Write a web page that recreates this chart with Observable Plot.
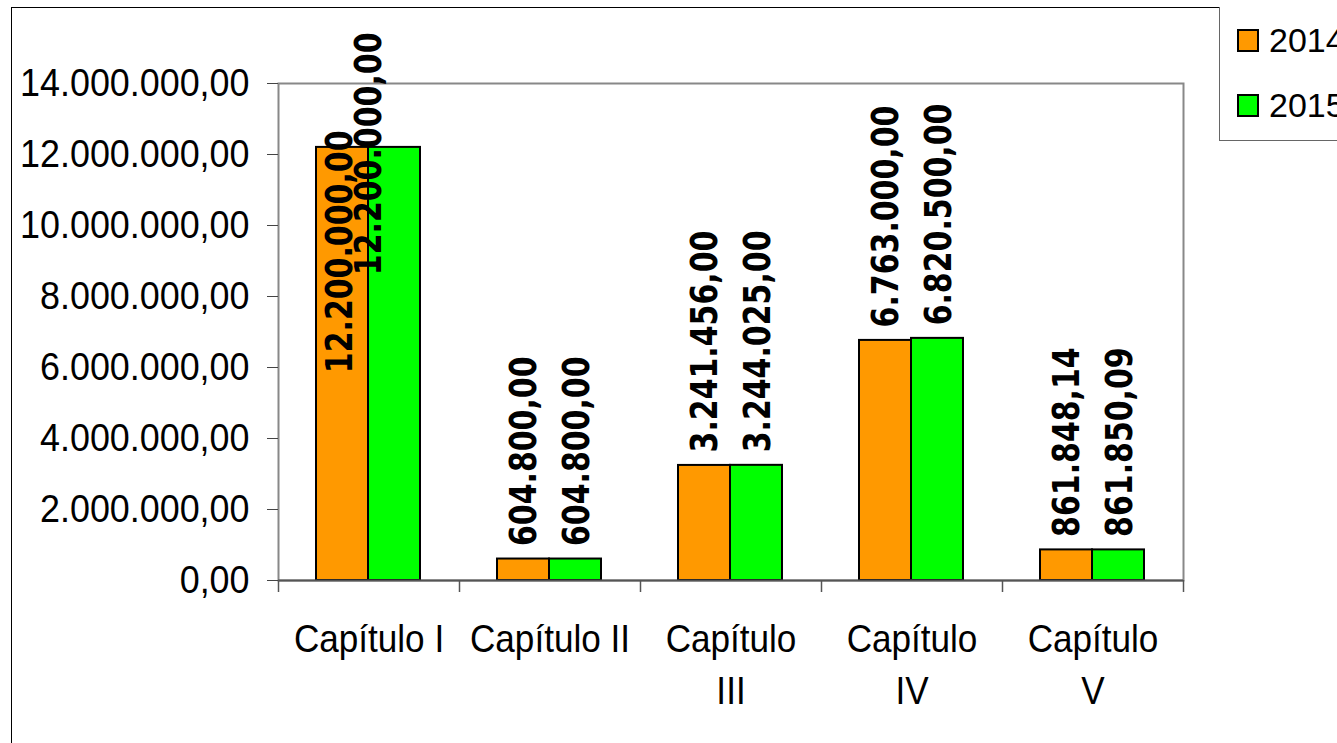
<!DOCTYPE html>
<html>
<head>
<meta charset="utf-8">
<script src="https://cdn.jsdelivr.net/npm/d3@7"></script>
<script src="https://cdn.jsdelivr.net/npm/@observablehq/plot@0.6"></script>
<style>
  html, body { margin: 0; padding: 0; background: #fff; overflow: hidden; }
  #wrap { position: relative; width: 1337px; height: 743px; overflow: hidden; }
  #outer { position: absolute; left: 11px; top: 7px; width: 1400px; height: 800px; border: 1.5px solid #000; box-sizing: border-box; }
  #chart { position: absolute; left: 0; top: 0; }
  #legend { position: absolute; left: 1219px; top: 7px; width: 200px; height: 134px; border: 1.2px solid #666; border-top: none; box-sizing: border-box; background: #fff; font-family: "Liberation Sans", Arial, sans-serif; font-size: 34px; }
  .item { position: absolute; left: 17px; display: flex; align-items: center; }
  .sw { width: 18px; height: 19px; border: 2px solid #000; margin-right: 10px; }
</style>
</head>
<body>
<div id="wrap">
  <div id="outer"></div>
  <div id="chart"></div>
  <div id="legend"></div>
</div>
<script>
const categories = ["Capítulo I", "Capítulo II", "Capítulo III", "Capítulo IV", "Capítulo V"];
const categoryLabels = ["Capítulo I", "Capítulo II", "Capítulo\nIII", "Capítulo\nIV", "Capítulo\nV"];
const years = ["2014", "2015"];
const values2014 = [12200000, 604800, 3241456, 6763000, 861848.14];
const values2015 = [12200000, 604800, 3244025, 6820500, 861850.09];
const yTicks = [0, 2000000, 4000000, 6000000, 8000000, 10000000, 12000000, 14000000];
const colors = ["#FF9900", "#00FF00"];

const locale = d3.formatLocale({decimal: ",", thousands: ".", grouping: [3], currency: ["", ""]});
const fmt = locale.format(",.2f");

const rows2014 = categories.map((c, i) => ({cat: c, value: values2014[i], year: years[0]}));
const rows2015 = categories.map((c, i) => ({cat: c, value: values2015[i], year: years[1]}));
const labelMap = new Map(categories.map((c, i) => [c, categoryLabels[i]]));

const W = 1337, H = 743;
const mL = 278, mR = 154, mT = 83, mB = 163;
const bw = (W - mL - mR) / categories.length;
const fits = d => d.value < 10000000;

const labelStyle = {fontFamily: "DejaVu Sans", fontWeight: "bold", fontSize: 37, fill: "#000", rotate: -90, lineAnchor: "middle"};

const plot = Plot.plot({
  width: W, height: H,
  marginLeft: mL, marginRight: mR, marginTop: mT, marginBottom: mB,
  style: {fontFamily: "'Liberation Sans', Arial, sans-serif", fontSize: "39px", color: "#000", background: "transparent"},
  x: {domain: categories, padding: 0, align: 0.5},
  y: {domain: [0, 14000000]},
  color: {domain: years, range: colors},
  marks: [
    Plot.frame({stroke: "#888", strokeWidth: 2}),
    Plot.barY(rows2014, {x: "cat", y: "value", fill: colors[0], stroke: "#000", strokeWidth: 2, insetLeft: 38, insetRight: bw - 90}),
    Plot.barY(rows2015, {x: "cat", y: "value", fill: colors[1], stroke: "#000", strokeWidth: 2, insetLeft: 90, insetRight: bw - 142}),
    Plot.ruleY([0], {stroke: "#555", strokeWidth: 2}),
    Plot.ruleX(categories, {x: d => d, y1: 0, y2: 0, insetTop: 12, dx: -bw / 2, stroke: "#555", strokeWidth: 1.5}),
    Plot.ruleX([categories[categories.length - 1]], {x: d => d, y1: 0, y2: 0, insetTop: 12, dx: bw / 2, stroke: "#555", strokeWidth: 1.5}),
    Plot.axisY({ticks: yTicks, tickFormat: fmt, tickSize: 11, tickPadding: 18, stroke: "#444", fontSize: 39, label: null}),
    Plot.axisX({tickSize: 0, tickPadding: 35, tickFormat: d => labelMap.get(d), fontSize: 39, lineHeight: 1.33, label: null}),
    Plot.text(rows2014.filter(fits), {x: "cat", y: "value", text: d => fmt(d.value), textAnchor: "start", dy: -13, dx: -25.5, ...labelStyle}),
    Plot.text(rows2015.filter(fits), {x: "cat", y: "value", text: d => fmt(d.value), textAnchor: "start", dy: -13, dx: 27, ...labelStyle}),
    Plot.text(rows2014.filter(d => !fits(d)), {x: "cat", frameAnchor: "top", text: d => fmt(d.value), textAnchor: "end", dy: 47, dx: -28.5, ...labelStyle}),
    Plot.text(rows2015.filter(d => !fits(d)), {x: "cat", frameAnchor: "top", text: d => fmt(d.value), textAnchor: "end", dy: -51, dx: 0, ...labelStyle})
  ]
});
document.getElementById("chart").appendChild(plot);

function squish(selector, ratio) {
  plot.querySelectorAll(selector).forEach(t => {
    const spans = t.querySelectorAll("tspan");
    const els = spans.length ? Array.from(spans) : [t];
    els.forEach(e => {
      const L = e.getComputedTextLength();
      e.setAttribute("textLength", L * ratio);
      e.setAttribute("lengthAdjust", "spacingAndGlyphs");
    });
  });
}
squish('g[aria-label="y-axis tick label"] text', 0.92);
squish('g[aria-label="x-axis tick label"] text', 0.9);
squish('g[aria-label="text"] text', 0.81);

const legend = document.getElementById("legend");
years.forEach((y, i) => {
  const item = document.createElement("div");
  item.className = "item";
  item.style.top = (i === 0 ? 14 : 79) + "px";
  const sw = document.createElement("div");
  sw.className = "sw";
  sw.style.background = colors[i];
  const tx = document.createElement("span");
  tx.textContent = y;
  item.appendChild(sw);
  item.appendChild(tx);
  legend.appendChild(item);
});
</script>
</body>
</html>
